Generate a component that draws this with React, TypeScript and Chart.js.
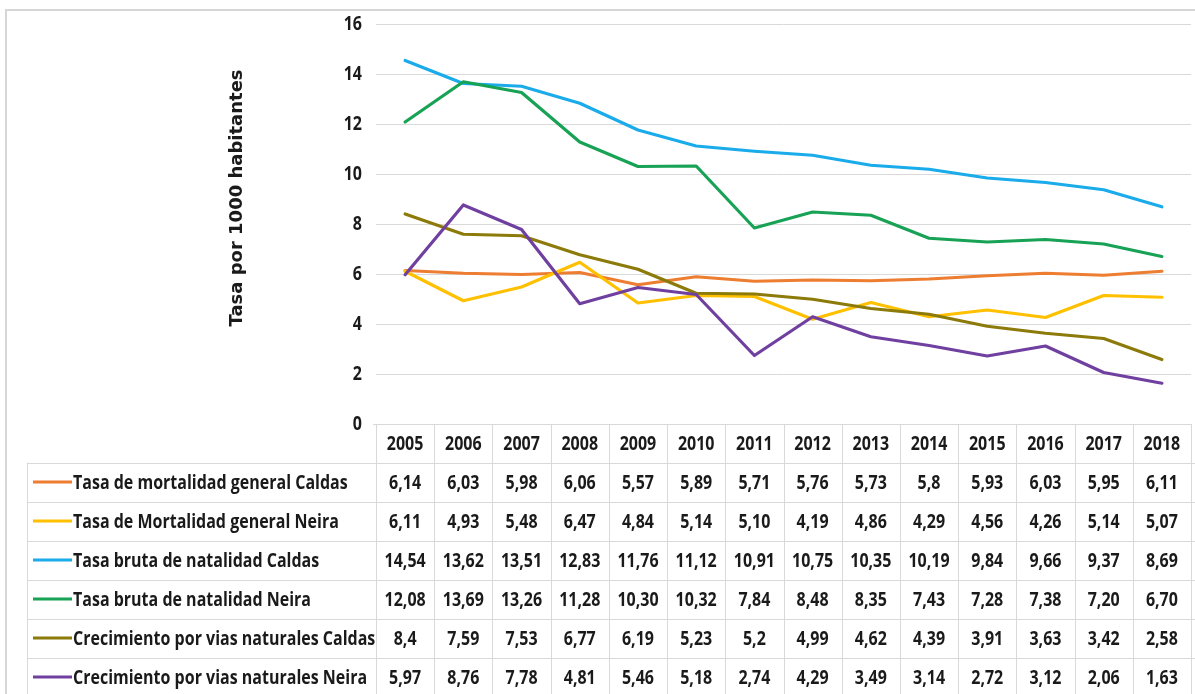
import React, { useEffect, useRef } from "react";
import { Chart, registerables } from "chart.js";

Chart.register(...registerables);

// ---- Data (values as printed in the data table) ----
const years = ["2005", "2006", "2007", "2008", "2009", "2010", "2011", "2012", "2013", "2014", "2015", "2016", "2017", "2018"];

const mortalidadCaldas = ["6,14", "6,03", "5,98", "6,06", "5,57", "5,89", "5,71", "5,76", "5,73", "5,8", "5,93", "6,03", "5,95", "6,11"];
const mortalidadNeira = ["6,11", "4,93", "5,48", "6,47", "4,84", "5,14", "5,10", "4,19", "4,86", "4,29", "4,56", "4,26", "5,14", "5,07"];
const natalidadCaldas = ["14,54", "13,62", "13,51", "12,83", "11,76", "11,12", "10,91", "10,75", "10,35", "10,19", "9,84", "9,66", "9,37", "8,69"];
const natalidadNeira = ["12,08", "13,69", "13,26", "11,28", "10,30", "10,32", "7,84", "8,48", "8,35", "7,43", "7,28", "7,38", "7,20", "6,70"];
const crecimientoCaldas = ["8,4", "7,59", "7,53", "6,77", "6,19", "5,23", "5,2", "4,99", "4,62", "4,39", "3,91", "3,63", "3,42", "2,58"];
const crecimientoNeira = ["5,97", "8,76", "7,78", "4,81", "5,46", "5,18", "2,74", "4,29", "3,49", "3,14", "2,72", "3,12", "2,06", "1,63"];

const seriesNames = [
  "Tasa de mortalidad general Caldas",
  "Tasa de Mortalidad general Neira",
  "Tasa bruta de natalidad Caldas",
  "Tasa bruta de natalidad Neira",
  "Crecimiento por vias naturales Caldas",
  "Crecimiento por vias naturales Neira",
];
const seriesValues = [mortalidadCaldas, mortalidadNeira, natalidadCaldas, natalidadNeira, crecimientoCaldas, crecimientoNeira];
const seriesColors = ["#ED7D31", "#FFC000", "#1AABEA", "#17A255", "#8C7B0A", "#7040A0"];

const yAxisTitle = "Tasa por 1000 habitantes";
const yMin = 0;
const yMax = 16;
const yStep = 2;

const toNum = (s: string) => parseFloat(s.replace(",", "."));

const TABLE_FONT = 'bold 20px "Open Sans", "Noto Sans", sans-serif';
const CONDENSE = 0.8;
const TEXT_COLOR = "#1A1A1A";
const GRID_COLOR = "#D9D9D9";

function condensedText(ctx: CanvasRenderingContext2D, text: string, x: number, y: number, align: CanvasTextAlign) {
  ctx.save();
  ctx.translate(x, y);
  ctx.scale(CONDENSE, 1);
  ctx.textAlign = align;
  ctx.fillText(text, 0, 0);
  ctx.restore();
}

const framePlugin = {
  id: "frame",
  beforeDraw(chart: any) {
    const { ctx, width, height } = chart;
    ctx.save();
    ctx.fillStyle = "#ffffff";
    ctx.fillRect(0, 0, width, height);
    ctx.strokeStyle = "#D6D6D6";
    ctx.lineWidth = 2;
    ctx.beginPath();
    ctx.moveTo(6, height + 2);
    ctx.lineTo(6, 10);
    ctx.lineTo(width + 2, 10);
    ctx.stroke();
    ctx.restore();
  },
};

const axisTextPlugin = {
  id: "axisText",
  afterDraw(chart: any) {
    const { ctx, chartArea } = chart;
    const ys = chart.scales.y;
    ctx.save();
    ctx.font = TABLE_FONT;
    ctx.fillStyle = TEXT_COLOR;
    ctx.textBaseline = "middle";
    ys.ticks.forEach((t: any) => {
      condensedText(ctx, String(t.value), chartArea.left - 14, ys.getPixelForValue(t.value), "right");
    });
    ctx.font = 'bold 18px "DejaVu Sans", Verdana, sans-serif';
    ctx.textAlign = "center";
    ctx.translate(237, (chartArea.top + chartArea.bottom) / 2 - 26);
    ctx.rotate(-Math.PI / 2);
    ctx.fillText(yAxisTitle, 0, 0);
    ctx.restore();
  },
};

const tablePlugin = {
  id: "dataTable",
  afterDraw(chart: any) {
    const { ctx, chartArea, width, height } = chart;
    const xs = chart.scales.x;
    const n = years.length;
    const colW = chartArea.width / n;
    const top = chartArea.bottom;
    const headerH = 38.5;
    const rowH = 39;
    const labelLeft = 27;
    const rowsTop = top + headerH;
    const bottom = Math.max(rowsTop + rowH * seriesNames.length, height + 2);

    ctx.save();
    ctx.strokeStyle = GRID_COLOR;
    ctx.lineWidth = 1;
    ctx.beginPath();
    ctx.moveTo(chartArea.left - 3, Math.round(top) + 0.5);
    ctx.lineTo(chartArea.right, Math.round(top) + 0.5);
    for (let r = 0; r <= seriesNames.length; r++) {
      const y = Math.round(rowsTop + r * rowH) + 0.5;
      ctx.moveTo(labelLeft, y);
      ctx.lineTo(width, y);
    }
    for (let c = 0; c <= n; c++) {
      const x = Math.round(chartArea.left + c * colW) + 0.5;
      ctx.moveTo(x, top);
      ctx.lineTo(x, bottom);
    }
    ctx.moveTo(labelLeft + 0.5, rowsTop);
    ctx.lineTo(labelLeft + 0.5, bottom);
    ctx.stroke();

    ctx.font = TABLE_FONT;
    ctx.fillStyle = TEXT_COLOR;
    ctx.textBaseline = "middle";
    years.forEach((yr, i) => {
      condensedText(ctx, yr, xs.getPixelForValue(i), top + headerH / 2 + 1, "center");
    });

    seriesNames.forEach((name, r) => {
      const cy = rowsTop + r * rowH + rowH / 2;
      ctx.strokeStyle = seriesColors[r];
      ctx.lineWidth = 3;
      ctx.beginPath();
      ctx.moveTo(33, cy);
      ctx.lineTo(72, cy);
      ctx.stroke();
      ctx.fillStyle = TEXT_COLOR;
      condensedText(ctx, name, 73, cy + 1, "left");
      seriesValues[r].forEach((v, i) => {
        condensedText(ctx, v, xs.getPixelForValue(i), cy + 1, "center");
      });
    });
    ctx.restore();
  },
};

export default function App() {
  const canvasRef = useRef<HTMLCanvasElement | null>(null);

  useEffect(() => {
    if (!canvasRef.current) return;
    const chart = new Chart(canvasRef.current, {
      type: "line",
      data: {
        labels: years,
        datasets: seriesNames.map((name, i) => ({
          label: name,
          data: seriesValues[i].map(toNum),
          borderColor: seriesColors[i],
          backgroundColor: seriesColors[i],
          borderWidth: 3.2,
          pointRadius: 0,
          tension: 0,
          fill: false,
          order: seriesNames.length - i,
          borderJoinStyle: "round" as const,
          borderCapStyle: "round" as const,
        })),
      },
      options: {
        responsive: false,
        animation: false,
        layout: { padding: { top: 24, left: 0, right: 4, bottom: 270 } },
        plugins: {
          legend: { display: false },
          tooltip: { enabled: false },
        },
        scales: {
          x: {
            type: "category",
            offset: true,
            display: false,
          },
          y: {
            min: yMin,
            max: yMax,
            afterFit: (scale: any) => {
              scale.width = 376;
            },
            ticks: {
              stepSize: yStep,
              display: false,
            },
            grid: {
              color: GRID_COLOR,
              drawTicks: false,
              lineWidth: 1,
            },
            border: { display: false },
          },
        },
      },
      plugins: [framePlugin, axisTextPlugin, tablePlugin],
    });
    return () => chart.destroy();
  }, []);

  return (
    <div style={{ position: "absolute", left: 0, top: 0, width: 1195, height: 694, background: "#fff" }}>
      <canvas ref={canvasRef} width={1195} height={694} />
    </div>
  );
}
